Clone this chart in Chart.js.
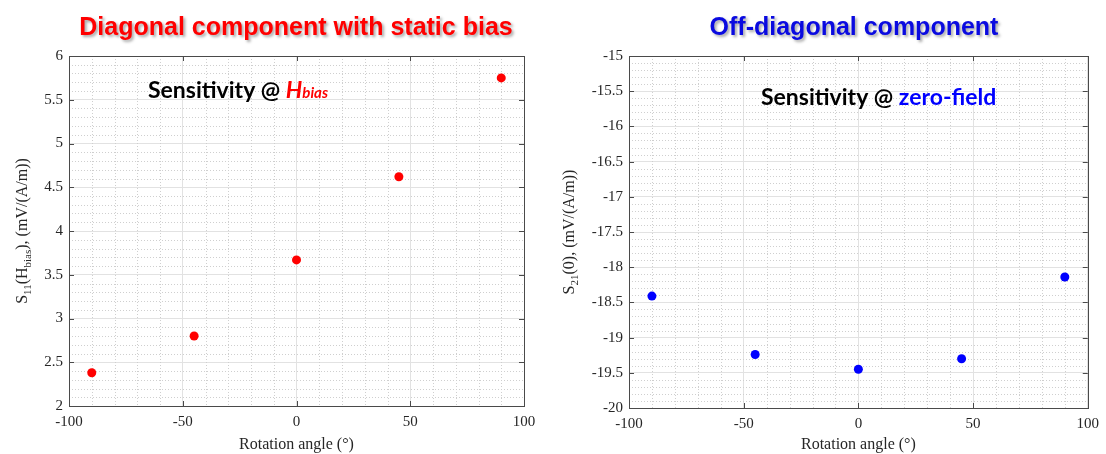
<!DOCTYPE html>
<html>
<head>
<meta charset="utf-8">
<script src="https://cdn.jsdelivr.net/npm/chart.js@4.4.1/dist/chart.umd.min.js"></script>
<style>
  html, body { margin: 0; padding: 0; background: #fff; }
  #wrap { position: relative; width: 1106px; height: 454px; overflow: hidden; }
  canvas { position: absolute; top: 0; }
</style>
</head>
<body>
<div id="wrap">
  <canvas id="diagChart" width="553" height="454" style="left:0"></canvas>
  <canvas id="offDiagChart" width="553" height="454" style="left:553px"></canvas>
</div>
<script>
// rotation angles (deg) and measured sensitivities, mV/(A/m)
const angles = [-90, -45, 0, 45, 90];
const diagSens = [2.38, 2.80, 3.67, 4.62, 5.75];
const offDiagSens = [-18.41, -19.24, -19.45, -19.30, -18.14];

// axis ranges / tick steps
const angleRange = [-100, 100];
const angleStep = 50;
const diagRange = [2, 6];
const offDiagRange = [-20, -15];
const sensStep = 0.5;

const SERIF = "'Liberation Serif', 'Times New Roman', serif";
const AXIS_COLOR = "#4a4a4a";
const TEXT_COLOR = "#262626";

// draws a run of differently styled text pieces, centered on x
function drawPieces(ctx, pieces, x, y, center) {
    let total = 0;
    pieces.forEach(p => {
        ctx.font = p.font;
        p.w = ctx.measureText(p.text).width;
        total += p.w;
    });
    let cx = center ? x - total / 2 : x;
    pieces.forEach(p => {
        ctx.font = p.font;
        ctx.fillStyle = p.color;
        ctx.fillText(p.text, cx, y + (p.dy || 0));
        cx += p.w;
    });
}

// MATLAB-style box: dotted minor grid, closed frame, inward ticks, labels
const matlabBox = {
    id: "matlabBox",

    beforeDatasetsDraw: (chart) => {
        const { ctx, chartArea: a, scales: { x, y } } = chart;
        ctx.save();
        ctx.strokeStyle = "#cfcfcf";
        ctx.lineWidth = 1;
        ctx.setLineDash([1, 2]);
        ctx.beginPath();
        const nx = Math.round((x.max - x.min) / 10);
        for (let i = 1; i < nx; i++) {
            if (i % 5 === 0) continue;
            const px = Math.round(x.getPixelForValue(x.min + i * 10)) + 0.5;
            ctx.moveTo(px, a.top);
            ctx.lineTo(px, a.bottom);
        }
        const ny = Math.round((y.max - y.min) / 0.1);
        for (let i = 1; i < ny; i++) {
            if (i % 5 === 0) continue;
            const py = Math.round(y.getPixelForValue(y.min + i * 0.1)) + 0.5;
            ctx.moveTo(a.left, py);
            ctx.lineTo(a.right, py);
        }
        ctx.stroke();
        ctx.restore();
    },

    afterDatasetsDraw: (chart) => {
        const { ctx, chartArea: a, scales: { x, y } } = chart;
        const tick = 5;
        ctx.save();
        ctx.strokeStyle = AXIS_COLOR;
        ctx.lineWidth = 1;
        ctx.beginPath();
        x.ticks.forEach(t => {
            const px = Math.round(x.getPixelForValue(t.value)) + 0.5;
            ctx.moveTo(px, a.bottom); ctx.lineTo(px, a.bottom - tick);
            ctx.moveTo(px, a.top); ctx.lineTo(px, a.top + tick);
        });
        y.ticks.forEach(t => {
            const py = Math.round(y.getPixelForValue(t.value)) + 0.5;
            ctx.moveTo(a.left, py); ctx.lineTo(a.left + tick, py);
            ctx.moveTo(a.right, py); ctx.lineTo(a.right - tick, py);
        });
        ctx.stroke();
        ctx.strokeRect(Math.round(a.left) + 0.5, Math.round(a.top) + 0.5,
            Math.round(a.right - a.left), Math.round(a.bottom - a.top));
        ctx.restore();
    },

    afterDraw: (chart, args, opts) => {
        const { ctx, chartArea: a } = chart;
        ctx.save();
        ctx.textBaseline = "alphabetic";

        // panel heading with soft drop shadow
        ctx.save();
        ctx.shadowColor = "rgba(0,0,0,0.35)";
        ctx.shadowBlur = 3;
        ctx.shadowOffsetX = 2;
        ctx.shadowOffsetY = 2;
        ctx.textAlign = "left";
        drawPieces(ctx, [{ text: opts.heading, font: "bold 25px 'Liberation Sans', Arial, sans-serif", color: opts.headingColor }],
            opts.headingX, 35, true);
        ctx.restore();

        // in-plot annotation
        drawPieces(ctx, opts.note, opts.noteX, opts.noteY, false);

        // rotated y axis title with subscripts
        ctx.save();
        ctx.translate(opts.yTitleX, (a.top + a.bottom) / 2);
        ctx.rotate(-Math.PI / 2);
        drawPieces(ctx, opts.yTitle, 0, 5, true);
        ctx.restore();

        ctx.restore();
    }
};

function sub(text) {
    return { text: text, font: "11px " + SERIF, color: TEXT_COLOR, dy: 4 };
}
function txt(text) {
    return { text: text, font: "16px " + SERIF, color: TEXT_COLOR };
}

function makeChart(id, values, range, color, box, panel) {
    const ctx = document.getElementById(id).getContext("2d");

    new Chart(ctx, {
        type: "scatter",

        data: {
            datasets: [{
                data: angles.map((a, i) => ({ x: a, y: values[i] })),
                backgroundColor: color,
                borderColor: color,
                borderWidth: 0,
                pointRadius: 4.5,
                pointHoverRadius: 4.5
            }]
        },

        options: {
            responsive: false,
            animation: false,

            layout: {
                padding: { top: box.top, right: box.right, left: 0, bottom: 0 }
            },

            plugins: {
                legend: { display: false },
                tooltip: { enabled: false },
                matlabBox: panel
            },

            scales: {
                x: {
                    min: angleRange[0],
                    max: angleRange[1],
                    ticks: {
                        stepSize: angleStep,
                        color: TEXT_COLOR,
                        padding: 7,
                        maxRotation: 0,
                        font: { family: SERIF, size: 15 }
                    },
                    grid: {
                        color: "#e2e2e2",
                        drawTicks: false
                    },
                    border: { display: false },
                    title: {
                        display: true,
                        text: "Rotation angle (°)",
                        color: TEXT_COLOR,
                        font: { family: SERIF, size: 16 },
                        padding: { top: 2, bottom: 0 }
                    },
                    afterFit: (scale) => { scale.height = box.xHeight; }
                },

                y: {
                    min: range[0],
                    max: range[1],
                    ticks: {
                        stepSize: sensStep,
                        color: TEXT_COLOR,
                        padding: 6,
                        font: { family: SERIF, size: 15 },
                        callback: (v) => String(Math.round(v * 10) / 10)
                    },
                    grid: {
                        color: "#e2e2e2",
                        drawTicks: false
                    },
                    border: { display: false },
                    afterFit: (scale) => { scale.width = box.yWidth; }
                }
            }
        },

        plugins: [matlabBox]
    });
}

const NOTE_FONT = "bold 23px Lato, 'Noto Sans', sans-serif";

makeChart("diagChart", diagSens, diagRange, "#ff0000",
    { top: 56, right: 29, yWidth: 69, xHeight: 48 },
    {
        heading: "Diagonal component with static bias",
        headingColor: "#ff0000",
        headingX: 296,
        note: [
            { text: "Sensitivity @ ", font: NOTE_FONT, color: "#000" },
            { text: "H", font: "italic bold 23px Lato, 'Noto Sans', sans-serif", color: "#ff0000" },
            { text: "bias", font: "italic bold 15px Lato, 'Noto Sans', sans-serif", color: "#ff0000" }
        ],
        noteX: 148,
        noteY: 98,
        yTitleX: 22,
        yTitle: [txt("S"), sub("11"), txt("(H"), sub("bias"), txt("), (mV/(A/m))")]
    });

makeChart("offDiagChart", offDiagSens, offDiagRange, "#0000ff",
    { top: 56, right: 16, yWidth: 76, xHeight: 46 },
    {
        heading: "Off-diagonal component",
        headingColor: "#0a0ae0",
        headingX: 301,
        note: [
            { text: "Sensitivity @ ", font: NOTE_FONT, color: "#000" },
            { text: "zero-field", font: NOTE_FONT, color: "#0000ff" }
        ],
        noteX: 208,
        noteY: 105,
        yTitleX: 16,
        yTitle: [txt("S"), sub("21"), txt("(0), (mV/(A/m))")]
    });
</script>
</body>
</html>
